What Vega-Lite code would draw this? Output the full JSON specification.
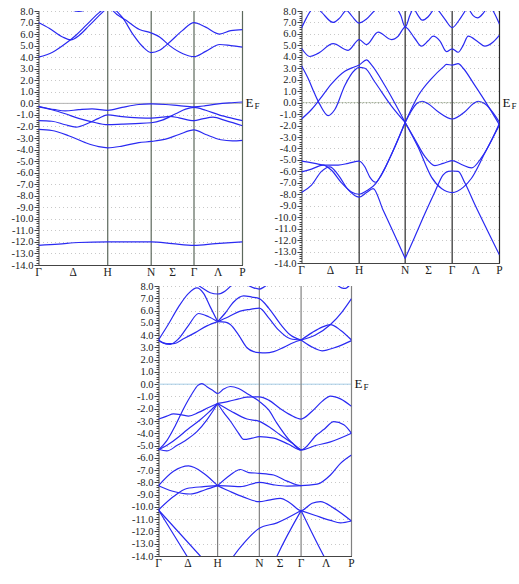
{
"$schema": "https://vega.github.io/schema/vega-lite/v6.json",
"background": "white",
"padding": {"left": 11, "top": 6, "right": 0, "bottom": 0},
"config": {"view": {"stroke": null}, "font": "Liberation Serif", "concat": {"spacing": 13}},
"datasets": {
"kp": [
{"panel":1,"k":0,"lab":"Γ","line":false},{"panel":1,"k":103.5,"lab":"Δ","line":false},{"panel":1,"k":207,"lab":"H","line":true},{"panel":1,"k":337,"lab":"N","line":true},{"panel":1,"k":401,"lab":"Σ","line":false},{"panel":1,"k":465,"lab":"Γ","line":true},{"panel":1,"k":537.5,"lab":"Λ","line":false},{"panel":1,"k":610,"lab":"P","line":true},
{"panel":2,"k":0,"lab":"Γ","line":false},{"panel":2,"k":86.5,"lab":"Δ","line":false},{"panel":2,"k":173,"lab":"H","line":true},{"panel":2,"k":311,"lab":"N","line":true},{"panel":2,"k":381.5,"lab":"Σ","line":false},{"panel":2,"k":452,"lab":"Γ","line":true},{"panel":2,"k":523,"lab":"Λ","line":false},{"panel":2,"k":594,"lab":"P","line":true},
{"panel":3,"k":0,"lab":"Γ","line":false},{"panel":3,"k":88.5,"lab":"Δ","line":false},{"panel":3,"k":177,"lab":"H","line":true},{"panel":3,"k":302,"lab":"N","line":true},{"panel":3,"k":364.5,"lab":"Σ","line":false},{"panel":3,"k":427,"lab":"Γ","line":true},{"panel":3,"k":502.5,"lab":"Λ","line":false},{"panel":3,"k":578,"lab":"P","line":true}
],
"p1": [
{"b":"c1","k":0,"e":4.0},{"b":"c1","k":42,"e":4.43},{"b":"c1","k":82,"e":5.2},{"b":"c1","k":112,"e":5.9},{"b":"c1","k":142,"e":6.75},{"b":"c1","k":177,"e":7.75},{"b":"c1","k":187,"e":8.0},{"b":"c1","k":207,"e":8.6},
{"b":"c2","k":0,"e":7.0},{"b":"c2","k":32,"e":6.5},{"b":"c2","k":72,"e":5.75},{"b":"c2","k":97,"e":5.5},{"b":"c2","k":122,"e":5.9},{"b":"c2","k":152,"e":6.75},{"b":"c2","k":192,"e":7.9},{"b":"c2","k":207,"e":8.3},
{"b":"c3","k":207,"e":8.7},{"b":"c3","k":222,"e":8.05},{"b":"c3","k":262,"e":7.2},{"b":"c3","k":302,"e":6.4},{"b":"c3","k":337,"e":6.1},{"b":"c3","k":362,"e":5.75},{"b":"c3","k":392,"e":5.0},{"b":"c3","k":432,"e":4.3},{"b":"c3","k":465,"e":4.05},{"b":"c3","k":500,"e":4.5},{"b":"c3","k":542,"e":5.1},{"b":"c3","k":575,"e":5.0},{"b":"c3","k":610,"e":4.87},
{"b":"c4","k":207,"e":9.0},{"b":"c4","k":232,"e":8.05},{"b":"c4","k":252,"e":7.4},{"b":"c4","k":282,"e":6.0},{"b":"c4","k":312,"e":4.9},{"b":"c4","k":337,"e":4.4},{"b":"c4","k":362,"e":4.6},{"b":"c4","k":392,"e":5.3},{"b":"c4","k":430,"e":6.3},{"b":"c4","k":465,"e":7.0},{"b":"c4","k":500,"e":6.6},{"b":"c4","k":542,"e":6.0},{"b":"c4","k":575,"e":6.3},{"b":"c4","k":610,"e":6.38},
{"b":"c5","k":80,"e":8.3},{"b":"c5","k":120,"e":7.97},{"b":"c5","k":160,"e":8.3},
{"b":"v1","k":0,"e":-0.25},{"b":"v1","k":50,"e":-0.55},{"b":"v1","k":80,"e":-0.65},{"b":"v1","k":120,"e":-0.55},{"b":"v1","k":160,"e":-0.48},{"b":"v1","k":207,"e":-0.6},{"b":"v1","k":250,"e":-0.35},{"b":"v1","k":300,"e":-0.1},{"b":"v1","k":337,"e":-0.05},{"b":"v1","k":380,"e":-0.1},{"b":"v1","k":420,"e":-0.2},{"b":"v1","k":465,"e":-0.3},{"b":"v1","k":500,"e":-0.2},{"b":"v1","k":532,"e":-0.06},{"b":"v1","k":570,"e":0.05},{"b":"v1","k":610,"e":0.12},
{"b":"v2","k":0,"e":-0.3},{"b":"v2","k":40,"e":-0.55},{"b":"v2","k":80,"e":-0.9},{"b":"v2","k":120,"e":-1.3},{"b":"v2","k":160,"e":-1.6},{"b":"v2","k":207,"e":-1.85},{"b":"v2","k":250,"e":-1.8},{"b":"v2","k":290,"e":-1.75},{"b":"v2","k":337,"e":-1.68},{"b":"v2","k":370,"e":-1.45},{"b":"v2","k":410,"e":-0.9},{"b":"v2","k":440,"e":-0.5},{"b":"v2","k":465,"e":-0.35},{"b":"v2","k":500,"e":-0.6},{"b":"v2","k":540,"e":-1.0},{"b":"v2","k":580,"e":-1.3},{"b":"v2","k":610,"e":-1.5},
{"b":"v3","k":0,"e":-1.5},{"b":"v3","k":40,"e":-1.55},{"b":"v3","k":80,"e":-1.85},{"b":"v3","k":112,"e":-2.05},{"b":"v3","k":150,"e":-1.7},{"b":"v3","k":180,"e":-1.3},{"b":"v3","k":207,"e":-1.0},{"b":"v3","k":250,"e":-1.15},{"b":"v3","k":300,"e":-1.25},{"b":"v3","k":337,"e":-1.28},{"b":"v3","k":370,"e":-1.2},{"b":"v3","k":392,"e":-1.12},{"b":"v3","k":420,"e":-1.25},{"b":"v3","k":465,"e":-1.5},{"b":"v3","k":490,"e":-1.35},{"b":"v3","k":522,"e":-1.2},{"b":"v3","k":560,"e":-1.5},{"b":"v3","k":610,"e":-1.94},
{"b":"v4","k":0,"e":-2.25},{"b":"v4","k":40,"e":-2.35},{"b":"v4","k":90,"e":-2.8},{"b":"v4","k":140,"e":-3.4},{"b":"v4","k":180,"e":-3.75},{"b":"v4","k":207,"e":-3.85},{"b":"v4","k":250,"e":-3.7},{"b":"v4","k":300,"e":-3.4},{"b":"v4","k":337,"e":-3.3},{"b":"v4","k":380,"e":-3.1},{"b":"v4","k":420,"e":-2.7},{"b":"v4","k":465,"e":-2.3},{"b":"v4","k":500,"e":-2.7},{"b":"v4","k":545,"e":-3.15},{"b":"v4","k":580,"e":-3.25},{"b":"v4","k":610,"e":-3.2},
{"b":"v5","k":0,"e":-12.3},{"b":"v5","k":60,"e":-12.2},{"b":"v5","k":120,"e":-12.05},{"b":"v5","k":207,"e":-12.0},{"b":"v5","k":280,"e":-12.0},{"b":"v5","k":337,"e":-12.0},{"b":"v5","k":400,"e":-12.15},{"b":"v5","k":465,"e":-12.3},{"b":"v5","k":530,"e":-12.15},{"b":"v5","k":610,"e":-12.0}
],
"p2": [
{"b":"t1","k":0,"e":6.5},{"b":"t1","k":15,"e":7.4},{"b":"t1","k":30,"e":8.1},{"b":"t1","k":45,"e":8.3},{"b":"t1","k":60,"e":7.9},{"b":"t1","k":95,"e":7.0},{"b":"t1","k":115,"e":7.4},{"b":"t1","k":135,"e":8.05},{"b":"t1","k":150,"e":7.6},{"b":"t1","k":173,"e":6.95},{"b":"t1","k":195,"e":7.3},{"b":"t1","k":220,"e":8.05},{"b":"t1","k":235,"e":8.4},
{"b":"t2","k":280,"e":8.5},{"b":"t2","k":298,"e":7.6},{"b":"t2","k":311,"e":6.6},{"b":"t2","k":325,"e":7.6},{"b":"t2","k":335,"e":8.3},
{"b":"t3","k":0,"e":4.75},{"b":"t3","k":25,"e":4.03},{"b":"t3","k":50,"e":4.3},{"b":"t3","k":95,"e":5.15},{"b":"t3","k":140,"e":4.57},{"b":"t3","k":173,"e":5.5},{"b":"t3","k":195,"e":5.07},{"b":"t3","k":230,"e":6.15},{"b":"t3","k":270,"e":5.5},{"b":"t3","k":290,"e":5.8},{"b":"t3","k":311,"e":6.6},{"b":"t3","k":340,"e":5.6},{"b":"t3","k":360,"e":4.93},{"b":"t3","k":380,"e":5.4},{"b":"t3","k":395,"e":5.8},{"b":"t3","k":415,"e":5.4},{"b":"t3","k":435,"e":4.45},{"b":"t3","k":452,"e":4.7},{"b":"t3","k":470,"e":4.4},{"b":"t3","k":485,"e":5.0},{"b":"t3","k":500,"e":5.8},{"b":"t3","k":530,"e":5.3},{"b":"t3","k":550,"e":4.93},{"b":"t3","k":575,"e":5.3},{"b":"t3","k":594,"e":5.9},
{"b":"t4","k":335,"e":8.4},{"b":"t4","k":350,"e":7.6},{"b":"t4","k":362,"e":7.2},{"b":"t4","k":380,"e":7.5},{"b":"t4","k":395,"e":8.1},
{"b":"t5","k":405,"e":8.3},{"b":"t5","k":430,"e":7.3},{"b":"t5","k":452,"e":6.55},{"b":"t5","k":475,"e":7.3},{"b":"t5","k":495,"e":8.2},
{"b":"t6","k":500,"e":8.3},{"b":"t6","k":515,"e":7.6},{"b":"t6","k":528,"e":7.4},{"b":"t6","k":545,"e":7.8},{"b":"t6","k":555,"e":8.2},
{"b":"t7","k":560,"e":8.6},{"b":"t7","k":575,"e":8.0},{"b":"t7","k":594,"e":6.85},
{"b":"u1","k":0,"e":3.22},{"b":"u1","k":20,"e":2.1},{"b":"u1","k":40,"e":0.75},{"b":"u1","k":55,"e":-0.15},{"b":"u1","k":80,"e":-1.13},{"b":"u1","k":100,"e":-0.6},{"b":"u1","k":130,"e":1.5},{"b":"u1","k":160,"e":2.85},{"b":"u1","k":173,"e":3.07},{"b":"u1","k":190,"e":3.0},{"b":"u1","k":220,"e":1.8},{"b":"u1","k":270,"e":-0.3},{"b":"u1","k":311,"e":-1.73},
{"b":"u2","k":0,"e":-1.43},{"b":"u2","k":30,"e":-0.6},{"b":"u2","k":55,"e":0.3},{"b":"u2","k":90,"e":1.64},{"b":"u2","k":130,"e":2.75},{"b":"u2","k":160,"e":3.13},{"b":"u2","k":173,"e":3.28},{"b":"u2","k":195,"e":3.73},{"b":"u2","k":210,"e":3.3},{"b":"u2","k":250,"e":1.5},{"b":"u2","k":311,"e":-1.73},
{"b":"u3","k":311,"e":-1.73},{"b":"u3","k":330,"e":-0.7},{"b":"u3","k":345,"e":-0.1},{"b":"u3","k":362,"e":0.12},{"b":"u3","k":380,"e":-0.1},{"b":"u3","k":410,"e":-0.8},{"b":"u3","k":452,"e":-1.43},{"b":"u3","k":490,"e":-0.8},{"b":"u3","k":515,"e":-0.1},{"b":"u3","k":530,"e":0.12},{"b":"u3","k":550,"e":-0.1},{"b":"u3","k":575,"e":-0.9},{"b":"u3","k":594,"e":-1.73},
{"b":"u4","k":311,"e":-1.73},{"b":"u4","k":350,"e":0.6},{"b":"u4","k":390,"e":2.1},{"b":"u4","k":425,"e":3.1},{"b":"u4","k":435,"e":3.34},{"b":"u4","k":452,"e":3.28},{"b":"u4","k":470,"e":3.4},{"b":"u4","k":485,"e":3.0},{"b":"u4","k":520,"e":1.5},{"b":"u4","k":560,"e":-0.3},{"b":"u4","k":594,"e":-1.94},
{"b":"l1","k":0,"e":-5.1},{"b":"l1","k":40,"e":-5.3},{"b":"l1","k":70,"e":-5.45},{"b":"l1","k":110,"e":-5.45},{"b":"l1","k":140,"e":-5.3},{"b":"l1","k":173,"e":-5.1},{"b":"l1","k":190,"e":-5.6},{"b":"l1","k":205,"e":-6.5},{"b":"l1","k":222,"e":-6.95},{"b":"l1","k":240,"e":-6.3},{"b":"l1","k":270,"e":-4.5},{"b":"l1","k":311,"e":-1.73},
{"b":"l2","k":0,"e":-6.05},{"b":"l2","k":30,"e":-5.8},{"b":"l2","k":65,"e":-5.45},{"b":"l2","k":90,"e":-5.9},{"b":"l2","k":120,"e":-7.0},{"b":"l2","k":150,"e":-7.8},{"b":"l2","k":173,"e":-8.0},{"b":"l2","k":195,"e":-7.7},{"b":"l2","k":222,"e":-7.1},{"b":"l2","k":245,"e":-6.0},{"b":"l2","k":275,"e":-4.2},{"b":"l2","k":311,"e":-1.73},
{"b":"l3","k":0,"e":-7.85},{"b":"l3","k":30,"e":-7.2},{"b":"l3","k":60,"e":-6.0},{"b":"l3","k":85,"e":-5.6},{"b":"l3","k":110,"e":-6.3},{"b":"l3","k":140,"e":-7.6},{"b":"l3","k":173,"e":-8.25},{"b":"l3","k":195,"e":-7.85},{"b":"l3","k":215,"e":-7.5},{"b":"l3","k":245,"e":-9.4},{"b":"l3","k":280,"e":-11.6},{"b":"l3","k":311,"e":-13.6},
{"b":"l4","k":311,"e":-1.73},{"b":"l4","k":340,"e":-3.2},{"b":"l4","k":370,"e":-4.7},{"b":"l4","k":400,"e":-5.5},{"b":"l4","k":425,"e":-5.3},{"b":"l4","k":452,"e":-5.06},{"b":"l4","k":480,"e":-5.4},{"b":"l4","k":510,"e":-5.7},{"b":"l4","k":540,"e":-4.8},{"b":"l4","k":570,"e":-3.3},{"b":"l4","k":594,"e":-1.8},
{"b":"l5","k":311,"e":-1.73},{"b":"l5","k":350,"e":-3.9},{"b":"l5","k":390,"e":-6.5},{"b":"l5","k":420,"e":-7.5},{"b":"l5","k":452,"e":-7.85},{"b":"l5","k":485,"e":-7.4},{"b":"l5","k":510,"e":-6.6},{"b":"l5","k":550,"e":-4.4},{"b":"l5","k":594,"e":-1.94},
{"b":"l6","k":311,"e":-13.6},{"b":"l6","k":340,"e":-11.7},{"b":"l6","k":370,"e":-9.7},{"b":"l6","k":400,"e":-7.8},{"b":"l6","k":425,"e":-6.3},{"b":"l6","k":440,"e":-6.0},{"b":"l6","k":452,"e":-5.97},{"b":"l6","k":470,"e":-6.0},{"b":"l6","k":490,"e":-7.0},{"b":"l6","k":520,"e":-8.9},{"b":"l6","k":560,"e":-11.3},{"b":"l6","k":594,"e":-13.3}
],
"p3": [
{"b":"a1","k":0,"e":3.6},{"b":"a1","k":30,"e":4.9},{"b":"a1","k":60,"e":6.3},{"b":"a1","k":90,"e":7.4},{"b":"a1","k":115,"e":7.85},{"b":"a1","k":135,"e":7.4},{"b":"a1","k":155,"e":6.3},{"b":"a1","k":177,"e":5.1},
{"b":"a2","k":100,"e":8.5},{"b":"a2","k":130,"e":7.85},{"b":"a2","k":155,"e":7.45},{"b":"a2","k":177,"e":7.35},{"b":"a2","k":200,"e":7.6},{"b":"a2","k":220,"e":8.1},{"b":"a2","k":230,"e":8.4},
{"b":"a3","k":0,"e":3.6},{"b":"a3","k":15,"e":3.35},{"b":"a3","k":35,"e":3.25},{"b":"a3","k":60,"e":3.7},{"b":"a3","k":90,"e":4.8},{"b":"a3","k":120,"e":5.76},{"b":"a3","k":150,"e":5.5},{"b":"a3","k":177,"e":5.1},
{"b":"a4","k":0,"e":3.55},{"b":"a4","k":25,"e":3.3},{"b":"a4","k":45,"e":3.3},{"b":"a4","k":75,"e":3.7},{"b":"a4","k":110,"e":4.2},{"b":"a4","k":145,"e":4.75},{"b":"a4","k":177,"e":5.1},
{"b":"a5","k":177,"e":5.1},{"b":"a5","k":210,"e":5.5},{"b":"a5","k":245,"e":5.95},{"b":"a5","k":275,"e":6.1},{"b":"a5","k":302,"e":6.2},{"b":"a5","k":330,"e":5.4},{"b":"a5","k":360,"e":4.4},{"b":"a5","k":395,"e":3.7},{"b":"a5","k":427,"e":3.6},
{"b":"a6","k":177,"e":5.1},{"b":"a6","k":200,"e":5.8},{"b":"a6","k":225,"e":6.7},{"b":"a6","k":255,"e":7.2},{"b":"a6","k":280,"e":7.1},{"b":"a6","k":302,"e":6.97},{"b":"a6","k":330,"e":6.2},{"b":"a6","k":365,"e":4.9},{"b":"a6","k":395,"e":4.0},{"b":"a6","k":427,"e":3.6},
{"b":"a7","k":177,"e":5.1},{"b":"a7","k":200,"e":5.05},{"b":"a7","k":215,"e":4.86},{"b":"a7","k":240,"e":4.0},{"b":"a7","k":265,"e":2.97},{"b":"a7","k":285,"e":2.65},{"b":"a7","k":302,"e":2.57},{"b":"a7","k":320,"e":2.55},{"b":"a7","k":345,"e":2.65},{"b":"a7","k":375,"e":3.0},{"b":"a7","k":405,"e":3.4},{"b":"a7","k":427,"e":3.6},
{"b":"a8","k":265,"e":8.1},{"b":"a8","k":285,"e":7.85},{"b":"a8","k":302,"e":7.75},{"b":"a8","k":315,"e":7.9},{"b":"a8","k":330,"e":8.2},
{"b":"a12","k":427,"e":3.6},{"b":"a12","k":460,"e":4.2},{"b":"a12","k":490,"e":4.65},{"b":"a12","k":515,"e":4.86},{"b":"a12","k":545,"e":4.4},{"b":"a12","k":578,"e":3.6},
{"b":"a13","k":427,"e":3.6},{"b":"a13","k":455,"e":3.1},{"b":"a13","k":490,"e":2.72},{"b":"a13","k":530,"e":3.0},{"b":"a13","k":578,"e":3.55},
{"b":"a14","k":427,"e":3.6},{"b":"a14","k":470,"e":4.0},{"b":"a14","k":515,"e":4.86},{"b":"a14","k":550,"e":5.9},{"b":"a14","k":578,"e":6.97},
{"b":"a15","k":530,"e":8.2},{"b":"a15","k":548,"e":7.85},{"b":"a15","k":560,"e":7.8},{"b":"a15","k":572,"e":8.05},{"b":"a15","k":578,"e":8.2},
{"b":"b1","k":0,"e":-2.84},{"b":"b1","k":25,"e":-2.6},{"b":"b1","k":45,"e":-2.42},{"b":"b1","k":70,"e":-2.5},{"b":"b1","k":90,"e":-2.6},{"b":"b1","k":120,"e":-2.3},{"b":"b1","k":150,"e":-1.9},{"b":"b1","k":177,"e":-1.57},
{"b":"b2","k":0,"e":-5.36},{"b":"b2","k":25,"e":-4.6},{"b":"b2","k":50,"e":-3.4},{"b":"b2","k":75,"e":-2.0},{"b":"b2","k":100,"e":-0.8},{"b":"b2","k":118,"e":-0.1},{"b":"b2","k":130,"e":0.05},{"b":"b2","k":145,"e":-0.2},{"b":"b2","k":165,"e":-0.55},{"b":"b2","k":177,"e":-0.76},{"b":"b2","k":195,"e":-0.4},{"b":"b2","k":215,"e":-0.19},{"b":"b2","k":240,"e":-0.35},{"b":"b2","k":270,"e":-0.85},{"b":"b2","k":302,"e":-1.4},{"b":"b2","k":330,"e":-2.1},{"b":"b2","k":355,"e":-3.2},{"b":"b2","k":390,"e":-4.5},{"b":"b2","k":427,"e":-5.36},
{"b":"b3","k":0,"e":-5.36},{"b":"b3","k":30,"e":-4.9},{"b":"b3","k":60,"e":-4.3},{"b":"b3","k":85,"e":-3.73},{"b":"b3","k":125,"e":-2.9},{"b":"b3","k":150,"e":-2.3},{"b":"b3","k":177,"e":-1.57},
{"b":"b4","k":0,"e":-5.3},{"b":"b4","k":25,"e":-5.44},{"b":"b4","k":55,"e":-5.0},{"b":"b4","k":85,"e":-4.5},{"b":"b4","k":115,"e":-3.86},{"b":"b4","k":145,"e":-2.9},{"b":"b4","k":165,"e":-2.1},{"b":"b4","k":177,"e":-1.57},
{"b":"b5","k":177,"e":-1.57},{"b":"b5","k":210,"e":-1.4},{"b":"b5","k":240,"e":-1.2},{"b":"b5","k":265,"e":-1.05},{"b":"b5","k":302,"e":-1.03},{"b":"b5","k":330,"e":-1.3},{"b":"b5","k":365,"e":-2.0},{"b":"b5","k":395,"e":-2.5},{"b":"b5","k":427,"e":-2.84},{"b":"b5","k":460,"e":-2.2},{"b":"b5","k":490,"e":-1.4},{"b":"b5","k":515,"e":-0.97},{"b":"b5","k":545,"e":-1.2},{"b":"b5","k":578,"e":-1.81},
{"b":"b6","k":177,"e":-1.57},{"b":"b6","k":215,"e":-2.16},{"b":"b6","k":265,"e":-2.84},{"b":"b6","k":302,"e":-3.03},{"b":"b6","k":335,"e":-3.55},{"b":"b6","k":365,"e":-4.14},{"b":"b6","k":400,"e":-4.8},{"b":"b6","k":427,"e":-5.36},{"b":"b6","k":475,"e":-4.1},{"b":"b6","k":495,"e":-3.7},{"b":"b6","k":525,"e":-3.05},{"b":"b6","k":555,"e":-3.3},{"b":"b6","k":578,"e":-4.0},
{"b":"b7","k":177,"e":-1.57},{"b":"b7","k":195,"e":-2.3},{"b":"b7","k":215,"e":-3.0},{"b":"b7","k":240,"e":-4.0},{"b":"b7","k":255,"e":-4.5},{"b":"b7","k":280,"e":-4.4},{"b":"b7","k":302,"e":-4.27},{"b":"b7","k":345,"e":-4.4},{"b":"b7","k":390,"e":-4.9},{"b":"b7","k":427,"e":-5.36},{"b":"b7","k":470,"e":-5.0},{"b":"b7","k":515,"e":-4.7},{"b":"b7","k":578,"e":-4.0},
{"b":"m1","k":0,"e":-8.27},{"b":"m1","k":45,"e":-7.1},{"b":"m1","k":90,"e":-6.66},{"b":"m1","k":135,"e":-7.25},{"b":"m1","k":177,"e":-8.27},
{"b":"m2","k":0,"e":-8.27},{"b":"m2","k":40,"e":-8.7},{"b":"m2","k":95,"e":-8.95},{"b":"m2","k":140,"e":-8.6},{"b":"m2","k":177,"e":-8.27},
{"b":"m3","k":0,"e":-10.25},{"b":"m3","k":45,"e":-9.16},{"b":"m3","k":85,"e":-8.5},{"b":"m3","k":135,"e":-8.35},{"b":"m3","k":177,"e":-8.27},
{"b":"m4","k":177,"e":-8.27},{"b":"m4","k":215,"e":-7.4},{"b":"m4","k":245,"e":-6.95},{"b":"m4","k":270,"e":-7.2},{"b":"m4","k":302,"e":-7.26},{"b":"m4","k":345,"e":-7.4},{"b":"m4","k":385,"e":-7.9},{"b":"m4","k":427,"e":-8.27},{"b":"m4","k":475,"e":-8.15},{"b":"m4","k":515,"e":-7.4},{"b":"m4","k":545,"e":-6.45},{"b":"m4","k":578,"e":-5.77},
{"b":"m5","k":177,"e":-8.27},{"b":"m5","k":215,"e":-8.3},{"b":"m5","k":245,"e":-8.35},{"b":"m5","k":302,"e":-8.0},{"b":"m5","k":345,"e":-8.2},{"b":"m5","k":385,"e":-8.3},{"b":"m5","k":427,"e":-8.27},
{"b":"m6","k":177,"e":-8.27},{"b":"m6","k":215,"e":-8.75},{"b":"m6","k":255,"e":-9.2},{"b":"m6","k":302,"e":-9.57},{"b":"m6","k":330,"e":-9.45},{"b":"m6","k":365,"e":-9.3},{"b":"m6","k":395,"e":-9.7},{"b":"m6","k":427,"e":-10.3},{"b":"m6","k":460,"e":-9.7},{"b":"m6","k":485,"e":-9.57},{"b":"m6","k":525,"e":-10.1},{"b":"m6","k":578,"e":-11.15},
{"b":"m9","k":427,"e":-10.3},{"b":"m9","k":470,"e":-10.7},{"b":"m9","k":515,"e":-11.1},{"b":"m9","k":545,"e":-11.3},{"b":"m9","k":578,"e":-11.15},
{"b":"m10","k":210,"e":-14.6},{"b":"m10","k":225,"e":-14.0},{"b":"m10","k":255,"e":-12.97},{"b":"m10","k":302,"e":-11.74},{"b":"m10","k":355,"e":-11.3},{"b":"m10","k":427,"e":-10.3},
{"b":"m11","k":345,"e":-14.6},{"b":"m11","k":355,"e":-14.0},{"b":"m11","k":427,"e":-10.3},
{"b":"m12","k":427,"e":-10.3},{"b":"m12","k":495,"e":-14.0},{"b":"m12","k":505,"e":-14.5},
{"b":"m13","k":0,"e":-10.25},{"b":"m13","k":85,"e":-14.0},{"b":"m13","k":95,"e":-14.45},
{"b":"m14","k":0,"e":-10.25},{"b":"m14","k":125,"e":-14.0},{"b":"m14","k":135,"e":-14.3}
]
},
"vconcat": [
{"hconcat": [
{"width": 204, "height": 254, "layer": [
 {"data": {"values": [{"e": 0}]}, "mark": {"type": "rule", "color": "#b4b4b4", "strokeWidth": 1}, "encoding": {"y": {"field": "e", "type": "quantitative", "scale": {"domain": [-14, 8], "nice": false}, "axis": {"title": null}}}},
 {"data": {"name": "kp"}, "transform": [{"filter": "datum.panel == 1 && datum.line"}], "mark": {"type": "rule", "color": "#5c685c", "strokeWidth": 1.2}, "encoding": {"x": {"field": "k", "type": "quantitative", "scale": {"domain": [0, 610], "nice": false, "zero": false}, "axis": {"title": null}}}},
 {"data": {"name": "p1"}, "mark": {"type": "line", "color": "#2a2af2", "strokeWidth": 1.2, "interpolate": "monotone", "clip": true},
  "encoding": {
   "x": {"field": "k", "type": "quantitative", "scale": {"domain": [0, 610], "nice": false, "zero": false}, "axis": {"title": null, "labels": false, "ticks": false, "grid": false, "domainColor": "#444"}},
   "y": {"field": "e", "type": "quantitative", "scale": {"domain": [-14, 8], "nice": false},
     "axis": {"title": null, "tickCount": 110, "labelExpr": "abs(datum.value - round(datum.value)) < 0.05 ? (datum.value < -0.05 ? '-' : '') + format(abs(datum.value), '.1f') : ''", "labelOverlap": false, "labelFontSize": 10.5, "labelColor": "#222", "labelPadding": 1, "tickColor": "#444", "domainColor": "#444", "tickSize": {"condition": {"test": "abs(datum.value - round(datum.value)) < 0.05", "value": 4.5}, "value": 2.5}, "grid": true, "gridColor": "#c8c8c8", "gridDash": [1, 3], "gridOpacity": {"condition": {"test": "abs(datum.value - round(datum.value)) < 0.05", "value": 1}, "value": 0}}},
   "detail": {"field": "b", "type": "nominal"}
  }},
 {"data": {"name": "kp"}, "transform": [{"filter": "datum.panel == 1"}], "mark": {"type": "text", "baseline": "top", "align": "center", "dy": 2, "fontSize": 11.5, "color": "#222"}, "encoding": {"x": {"field": "k", "type": "quantitative", "scale": {"domain": [0, 610], "nice": false, "zero": false}, "axis": {"title": null}}, "y": {"datum": -14, "type": "quantitative", "scale": {"domain": [-14, 8], "nice": false}, "axis": {"title": null}}, "text": {"field": "lab", "type": "nominal"}}},
 {"data": {"values": [{"k": 610, "e": 0}]}, "mark": {"type": "text", "text": "E", "align": "left", "baseline": "middle", "dx": 3, "fontSize": 13, "color": "#111"}, "encoding": {"x": {"field": "k", "type": "quantitative", "scale": {"domain": [0, 610], "nice": false, "zero": false}, "axis": {"title": null}}, "y": {"field": "e", "type": "quantitative", "scale": {"domain": [-14, 8], "nice": false}, "axis": {"title": null}}}},
 {"data": {"values": [{"k": 610, "e": 0}]}, "mark": {"type": "text", "text": "F", "align": "left", "baseline": "middle", "dx": 12, "dy": 3, "fontSize": 9, "color": "#111"}, "encoding": {"x": {"field": "k", "type": "quantitative", "scale": {"domain": [0, 610], "nice": false, "zero": false}, "axis": {"title": null}}, "y": {"field": "e", "type": "quantitative", "scale": {"domain": [-14, 8], "nice": false}, "axis": {"title": null}}}}
]},
{"width": 198, "height": 252, "layer": [
 {"data": {"values": [{"e": 0}]}, "mark": {"type": "rule", "color": "#9aa68e", "strokeWidth": 1, "strokeDash": [2, 1]}, "encoding": {"y": {"field": "e", "type": "quantitative", "scale": {"domain": [-14, 8], "nice": false}, "axis": {"title": null}}}},
 {"data": {"name": "kp"}, "transform": [{"filter": "datum.panel == 2 && datum.line"}], "mark": {"type": "rule", "color": "#2a2a2a", "strokeWidth": 1.2}, "encoding": {"x": {"field": "k", "type": "quantitative", "scale": {"domain": [0, 594], "nice": false, "zero": false}, "axis": {"title": null}}}},
 {"data": {"name": "p2"}, "mark": {"type": "line", "color": "#2a2af2", "strokeWidth": 1.2, "interpolate": "monotone", "clip": true},
  "encoding": {
   "x": {"field": "k", "type": "quantitative", "scale": {"domain": [0, 594], "nice": false, "zero": false}, "axis": {"title": null, "labels": false, "ticks": false, "grid": false, "domainColor": "#444"}},
   "y": {"field": "e", "type": "quantitative", "scale": {"domain": [-14, 8], "nice": false},
     "axis": {"title": null, "tickCount": 110, "labelExpr": "abs(datum.value - round(datum.value)) < 0.05 ? (datum.value < -0.05 ? '-' : '') + format(abs(datum.value), '.1f') : ''", "labelOverlap": false, "labelFontSize": 10.5, "labelColor": "#222", "labelPadding": 1, "tickColor": "#444", "domainColor": "#444", "tickSize": {"condition": {"test": "abs(datum.value - round(datum.value)) < 0.05", "value": 4.5}, "value": 2.5}, "grid": true, "gridColor": "#c8c8c8", "gridDash": [1, 3], "gridOpacity": {"condition": {"test": "abs(datum.value - round(datum.value)) < 0.05", "value": 1}, "value": 0}}},
   "detail": {"field": "b", "type": "nominal"}
  }},
 {"data": {"name": "kp"}, "transform": [{"filter": "datum.panel == 2"}], "mark": {"type": "text", "baseline": "top", "align": "center", "dy": 2, "fontSize": 11.5, "color": "#222"}, "encoding": {"x": {"field": "k", "type": "quantitative", "scale": {"domain": [0, 594], "nice": false, "zero": false}, "axis": {"title": null}}, "y": {"datum": -14, "type": "quantitative", "scale": {"domain": [-14, 8], "nice": false}, "axis": {"title": null}}, "text": {"field": "lab", "type": "nominal"}}},
 {"data": {"values": [{"k": 594, "e": 0}]}, "mark": {"type": "text", "text": "E", "align": "left", "baseline": "middle", "dx": 3, "fontSize": 13, "color": "#111"}, "encoding": {"x": {"field": "k", "type": "quantitative", "scale": {"domain": [0, 594], "nice": false, "zero": false}, "axis": {"title": null}}, "y": {"field": "e", "type": "quantitative", "scale": {"domain": [-14, 8], "nice": false}, "axis": {"title": null}}}},
 {"data": {"values": [{"k": 594, "e": 0}]}, "mark": {"type": "text", "text": "F", "align": "left", "baseline": "middle", "dx": 12, "dy": 3, "fontSize": 9, "color": "#111"}, "encoding": {"x": {"field": "k", "type": "quantitative", "scale": {"domain": [0, 594], "nice": false, "zero": false}, "axis": {"title": null}}, "y": {"field": "e", "type": "quantitative", "scale": {"domain": [-14, 8], "nice": false}, "axis": {"title": null}}}}
]}
]},
{"width": 193, "height": 270, "layer": [
 {"data": {"values": [{"e": 0}]}, "mark": {"type": "rule", "color": "#a6cde6", "strokeWidth": 1}, "encoding": {"y": {"field": "e", "type": "quantitative", "scale": {"domain": [-14, 8], "nice": false}, "axis": {"title": null}}}},
 {"data": {"name": "kp"}, "transform": [{"filter": "datum.panel == 3 && datum.line"}], "mark": {"type": "rule", "color": "#808080", "strokeWidth": 1.2}, "encoding": {"x": {"field": "k", "type": "quantitative", "scale": {"domain": [0, 578], "nice": false, "zero": false}, "axis": {"title": " "}}}},
 {"data": {"name": "p3"}, "mark": {"type": "line", "color": "#2a2af2", "strokeWidth": 1.2, "interpolate": "monotone", "clip": true},
  "encoding": {
   "x": {"field": "k", "type": "quantitative", "scale": {"domain": [0, 578], "nice": false, "zero": false}, "axis": {"title": " ", "titleX": 238, "titleAlign": "left", "titleFontSize": 10, "labels": false, "ticks": false, "grid": false, "domainColor": "#444"}},
   "y": {"field": "e", "type": "quantitative", "scale": {"domain": [-14, 8], "nice": false},
     "axis": {"title": null, "tickCount": 110, "labelExpr": "abs(datum.value - round(datum.value)) < 0.05 ? (datum.value < -0.05 ? '-' : '') + format(abs(datum.value), '.1f') : ''", "labelOverlap": false, "labelFontSize": 10.5, "labelColor": "#222", "labelPadding": 1, "tickColor": "#444", "domainColor": "#444", "tickSize": {"condition": {"test": "abs(datum.value - round(datum.value)) < 0.05", "value": 4.5}, "value": 2.5}, "grid": true, "gridColor": "#c8c8c8", "gridDash": [1, 3], "gridOpacity": {"condition": {"test": "abs(datum.value - round(datum.value)) < 0.05", "value": 1}, "value": 0}}},
   "detail": {"field": "b", "type": "nominal"}
  }},
 {"data": {"name": "kp"}, "transform": [{"filter": "datum.panel == 3"}], "mark": {"type": "text", "baseline": "top", "align": "center", "dy": 2, "fontSize": 11.5, "color": "#222"}, "encoding": {"x": {"field": "k", "type": "quantitative", "scale": {"domain": [0, 578], "nice": false, "zero": false}, "axis": {"title": " "}}, "y": {"datum": -14, "type": "quantitative", "scale": {"domain": [-14, 8], "nice": false}, "axis": {"title": null}}, "text": {"field": "lab", "type": "nominal"}}},
 {"data": {"values": [{"k": 578, "e": 0}]}, "mark": {"type": "text", "text": "E", "align": "left", "baseline": "middle", "dx": 3, "fontSize": 13, "color": "#111"}, "encoding": {"x": {"field": "k", "type": "quantitative", "scale": {"domain": [0, 578], "nice": false, "zero": false}, "axis": {"title": " "}}, "y": {"field": "e", "type": "quantitative", "scale": {"domain": [-14, 8], "nice": false}, "axis": {"title": null}}}},
 {"data": {"values": [{"k": 578, "e": 0}]}, "mark": {"type": "text", "text": "F", "align": "left", "baseline": "middle", "dx": 12, "dy": 3, "fontSize": 9, "color": "#111"}, "encoding": {"x": {"field": "k", "type": "quantitative", "scale": {"domain": [0, 578], "nice": false, "zero": false}, "axis": {"title": " "}}, "y": {"field": "e", "type": "quantitative", "scale": {"domain": [-14, 8], "nice": false}, "axis": {"title": null}}}}
]}
],
"spacing": 2,
"center": true
}
